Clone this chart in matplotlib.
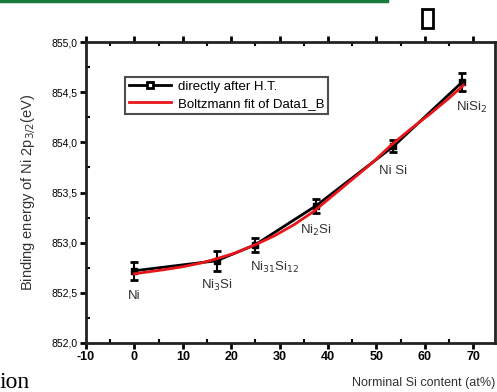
import matplotlib
matplotlib.use("Agg")
import matplotlib.pyplot as plt
from matplotlib.lines import Line2D
from matplotlib.ticker import FixedLocator, MultipleLocator, FuncFormatter

plt.rcParams['font.family'] = ['Liberation Sans', 'DejaVu Sans']
plt.rcParams['axes.unicode_minus'] = False

# data
si_content = [0, 17, 25, 37.6, 53.5, 67.7]
binding_energy = [852.72, 852.82, 852.98, 853.37, 853.96, 854.60]
errors = [0.09, 0.10, 0.07, 0.07, 0.06, 0.09]
phase_labels = ['Ni', 'Ni$_3$Si', 'Ni$_{31}$Si$_{12}$', 'Ni$_2$Si', 'Ni Si', 'NiSi$_2$']

fit_x = [0, 3, 6, 10, 14, 17, 21, 25, 29, 33, 37, 41, 45, 49, 53, 57, 61, 65, 68]
fit_y = [852.69, 852.71, 852.73, 852.76, 852.80, 852.84, 852.90, 852.98, 853.07,
         853.18, 853.31, 853.47, 853.63, 853.79, 853.97, 854.13, 854.28, 854.44, 854.57]

xticks = [-10, 0, 10, 20, 30, 40, 50, 60, 70]
yticks = [852.0, 852.5, 853.0, 853.5, 854.0, 854.5, 855.0]

fig = plt.figure(figsize=(4.97, 3.92), dpi=100)
ax = fig.add_axes([86/497, 1 - 343/392, (495-86)/497, (343-42)/392])

ax.errorbar(si_content, binding_energy, yerr=errors, color='black', lw=2,
            marker='s', ms=5, mfc='black', mec='black', capsize=3, capthick=2,
            elinewidth=1.5, zorder=3)
ax.plot(fit_x, fit_y, color='#e8161b', lw=2, zorder=4)

label_offsets = [(0, -0.25), (0, -0.25), (4, -0.23), (0, -0.25), (0, -0.25), (2, -0.25)]
for x, y, lab, (dx, dy) in zip(si_content, binding_energy, phase_labels, label_offsets):
    ax.text(x + dx, y + dy, lab, ha='center', va='center', fontsize=9.5, color='#333333')

ax.set_xlim(-10, 74.5)
ax.set_ylim(852.0, 855.0)
ax.xaxis.set_major_locator(FixedLocator(xticks))
ax.yaxis.set_major_locator(FixedLocator(yticks))
ax.xaxis.set_minor_locator(MultipleLocator(5))
ax.yaxis.set_minor_locator(MultipleLocator(0.25))
ax.yaxis.set_major_formatter(FuncFormatter(lambda v, p: f"{v:.1f}".replace('.', ',')))
ax.tick_params(which='major', direction='out', length=4, width=2, labelsize=7.5, pad=2)
ax.tick_params(which='minor', direction='in', length=3, width=1.5)
ax.tick_params(axis='x', which='both', top=True)
ax.tick_params(axis='x', which='major', labelsize=9)
for t in ax.get_xticklabels():
    t.set_fontweight('bold')
for s in ax.spines.values():
    s.set_linewidth(2)
    s.set_color('#222222')

ax.set_ylabel('Binding energy of Ni 2p$_{3/2}$(eV)', fontsize=10.5, labelpad=10, color='#333333')
fig.text(495/497, 1 - 383/392, 'Norminal Si content (at%)', ha='right', va='center',
         fontsize=9, color='#333333')

h1 = Line2D([], [], color='black', lw=2, marker='s', ms=5, mfc='white', mec='black', mew=2)
h2 = Line2D([], [], color='#e8161b', lw=2)
leg = ax.legend([h1, h2], ['directly after H.T.', 'Boltzmann fit of Data1_B'],
                loc='upper left', bbox_to_anchor=(0.095, 0.885), fontsize=9.5,
                frameon=True, fancybox=False, edgecolor='#222222', handlelength=3.2,
                borderpad=0.3, labelspacing=0.35, handletextpad=0.5, borderaxespad=0)
leg.get_frame().set_linewidth(1.5)

# page decorations
fig.add_artist(plt.Line2D([0, 387/497], [0.997, 0.997], color='#1a7a3a', lw=2.5,
                          transform=fig.transFigure))
fig.add_artist(plt.Rectangle((422/497, 1 - 28/392), 11/497, 19/392, fill=False,
                             edgecolor='black', lw=2, transform=fig.transFigure))
fig.text(0.0, 1 - 383/392, 'ion', family=['Liberation Serif', 'DejaVu Serif'],
         fontsize=17, va='center', ha='left')

fig.savefig('out.png', dpi=100)
